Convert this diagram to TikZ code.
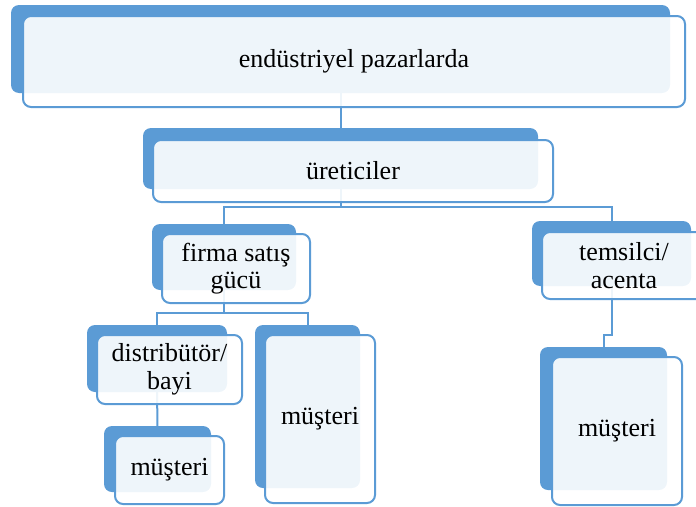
\documentclass[tikz,border=0pt]{standalone}
\usepackage{fontspec}
\setmainfont{Liberation Serif}
\usetikzlibrary{backgrounds}
\definecolor{accent}{HTML}{5B9BD5}
\begin{document}
\begin{tikzpicture}[x=1pt,y=-1pt,
  backbox/.style={fill=accent, rounded corners=8pt, inner sep=0pt, outer sep=0pt},
  frontbox/.style={draw=accent, line width=2pt, fill=white, fill opacity=0.9, text opacity=1,
    rounded corners=8pt, inner sep=0pt, outer sep=0pt, align=center,
    font=\fontsize{26}{27.5}\selectfont},
  link/.style={draw=accent, line width=2pt}]
\useasboundingbox (0,0) rectangle (696,506);
\clip (0,0) rectangle (696,506);

% back plates
\node[backbox, minimum width=659pt, minimum height=88pt] (b1) at (340.5,49) {};
\node[backbox, minimum width=395pt, minimum height=61pt] (b2) at (340.5,158.5) {};
\node[backbox, minimum width=144pt, minimum height=66pt] (b3) at (224,257) {};
\node[backbox, minimum width=159pt, minimum height=65pt] (b4) at (611.5,253.5) {};
\node[backbox, minimum width=140pt, minimum height=67pt] (b5) at (157,358.5) {};
\node[backbox, minimum width=105pt, minimum height=163pt] (b6) at (307.5,406.5) {};
\node[backbox, minimum width=107pt, minimum height=66pt] (b7) at (157.5,459) {};
\node[backbox, minimum width=127pt, minimum height=143pt] (b8) at (603.5,418.5) {};

% connectors run behind the plates
\begin{scope}[on background layer]
  \coordinate (j2) at (b2 |- 0,207);
  \coordinate (j3) at (b3 |- 0,313);
  \coordinate (j4) at (b4 |- 0,335);
  \draw[link] (b1) -- (b2);
  \draw[link] (b2) -- (j2) -| (b3);
  \draw[link] (j2) -| (b4);
  \draw[link] (b3) -- (j3) -| (b5);
  \draw[link] (j3) -| (b6);
  \draw[link] (b5) -- (b7);
  \draw[link] (b4) -- (j4) -| (b8);
\end{scope}

% front cards
\node[frontbox, minimum width=662pt, minimum height=91pt] (f1) at (354,61.5) {endüstriyel pazarlarda};
\node[frontbox, minimum width=400pt, minimum height=62pt] (f2) at (353,171) {üreticiler};
\node[frontbox, minimum width=148pt, minimum height=69pt] (f3) at (236,268.5) {firma satış\\gücü};
\node[frontbox, minimum width=164pt, minimum height=67pt] (f4) at (624,265.5) {temsilci/\\acenta};
\node[frontbox, minimum width=145pt, minimum height=69pt] (f5) at (169.5,369.5) {distribütör/\\bayi};
\node[frontbox, minimum width=110pt, minimum height=168pt] (f6) at (320,419) {müşteri};
\node[frontbox, minimum width=109pt, minimum height=68pt] (f7) at (169.5,470) {müşteri};
\node[frontbox, minimum width=130pt, minimum height=148pt] (f8) at (617,431) {müşteri};
\end{tikzpicture}
\end{document}
